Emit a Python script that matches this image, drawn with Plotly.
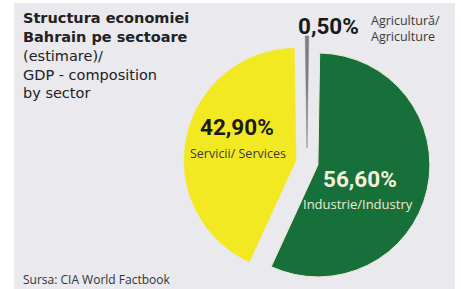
import plotly.graph_objects as go

W, H = 461, 289

# ---- data ----
sectors_ro = ["Agricultură", "Industrie", "Servicii"]
sectors_en = ["Agriculture", "Industry", "Services"]
shares = [0.5, 56.6, 42.9]
slice_colors = ["#7e7e7e", "#17703a", "#f2e923"]
pulls = [0.13, 0.1, 0.1]

title_lines = ["<b>Structura economiei</b>", "<b>Bahrain pe sectoare</b>",
               "(estimare)/", "GDP - composition", "by sector"]
source_text = "Sursa: CIA World Factbook"


def fmt(v):
    return f"{v:.2f}%".replace(".", ",")


def px(x, y):
    return x / W, 1 - y / H


fig = go.Figure()

# pie geometry: centre and radius in pixels
cx, cy, R = 307, 162.5, 112
half = R * (1 + max(pulls))
x0, y0 = px(cx - half, cy + half)
x1, y1 = px(cx + half, cy - half)

fig.add_trace(go.Pie(
    labels=[f"{a}/{b}" for a, b in zip(sectors_ro, sectors_en)],
    values=shares,
    sort=False,
    direction="clockwise",
    rotation=-shares[0] * 3.6 / 2,
    pull=pulls,
    marker=dict(colors=slice_colors,
                line=dict(color=["#7e7e7e", "#efe8d2", "#f2e923"], width=[0.5, 1, 0.5])),
    textinfo="none",
    hoverinfo="skip",
    showlegend=False,
    domain=dict(x=[x0, x1], y=[max(0, y0), min(1, y1)]),
))

num_font = "Roboto, DejaVu Sans Condensed, sans-serif"
txt_font = "Open Sans, Noto Sans, sans-serif"

ann = []


def add(text, x, y, size, color, family, xanchor="center", align="center"):
    ax, ay = px(x, y)
    ann.append(dict(text=text, x=ax, y=ay, xref="paper", yref="paper",
                    xanchor=xanchor, yanchor="middle", align=align, showarrow=False,
                    font=dict(size=size, color=color, family=family)))


# title block (one multi-line text)
add("<br>".join(title_lines), 21, 56, 14.5, "#222222", "DejaVu Sans, sans-serif",
    xanchor="left", align="left")

# slice labels
add(f"<b>{fmt(shares[2])}</b>", 237, 127, 22.5, "#1a1a1a", num_font)
add(f"{sectors_ro[2]}/ {sectors_en[2]}", 238, 154, 12.5, "#3a3a3a", txt_font)
add(f"<b>{fmt(shares[1])}</b>", 360, 179, 22.5, "#f5f0dc", num_font)
add(f"{sectors_ro[1]}/{sectors_en[1]}", 358, 204, 13, "#f0ead6", txt_font)
add(f"<b>{fmt(shares[0])}</b>", 328, 26, 22.5, "#1a1a1a", num_font)
add(f"{sectors_ro[0]}/<br>{sectors_en[0]}", 369, 29, 12.5, "#3a3a3a", txt_font,
    xanchor="left", align="left")

# source
add(source_text, 21, 279.5, 12, "#333333", txt_font, xanchor="left", align="left")

bx0, by1 = px(14, 3)
bx1, _ = px(455, 0)

fig.update_layout(
    width=W, height=H,
    margin=dict(l=0, r=0, t=0, b=0),
    paper_bgcolor="#ffffff",
    plot_bgcolor="#ffffff",
    annotations=ann,
    shapes=[dict(type="rect", xref="paper", yref="paper", x0=bx0, x1=bx1, y0=0, y1=by1,
                 fillcolor="#e9e9ee", line=dict(width=0), layer="below")],
)

fig.write_html("out.html", config={"displayModeBar": False},
               post_script="document.body.style.margin='0';document.body.style.overflow='hidden';")
